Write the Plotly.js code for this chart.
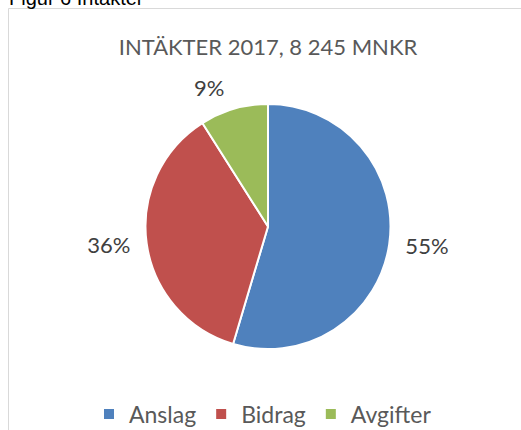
<!DOCTYPE html>
<html>
<head>
<meta charset="utf-8">
<script src="https://cdn.plot.ly/plotly-3.0.1.min.js"></script>
<style>html,body{margin:0;padding:0;background:#fff;}#chart{width:521px;height:430px;}</style>
</head>
<body>
<div id="chart"></div>
<script>
const categories = ["Anslag", "Bidrag", "Avgifter"];
const shares = [54.6, 36.4, 9.0];
const colors = ["#4F81BD", "#C0504D", "#9BBB59"];
const chartTitle = "INTÄKTER 2017, 8 245 MNKR";
const figureCaption = "Figur 6 Intäkter";

const W = 521, H = 430;
const cx = 268, cy = 226.5, r = 122.5, rLabel = 132;
const textFont = "Lato, 'Open Sans', sans-serif";

function domainFor(radius) {
  return {x: [(cx - radius) / W, (cx + radius) / W], y: [(H - cy - radius) / H, (H - cy + radius) / H]};
}

const pieTrace = {
  type: "pie",
  labels: categories,
  values: shares,
  sort: false,
  direction: "clockwise",
  rotation: 0,
  marker: {colors: colors, line: {color: "#ffffff", width: 2}},
  textinfo: "none",
  hoverinfo: "none",
  domain: domainFor(r),
  showlegend: true
};

// same data, transparent, only used to place the percentage labels a little outside the pie
const labelTrace = {
  type: "pie",
  labels: categories,
  values: shares,
  sort: false,
  direction: "clockwise",
  rotation: 0,
  marker: {colors: categories.map(() => "rgba(0,0,0,0)"), line: {width: 0}},
  textposition: "outside",
  texttemplate: "%{percent:.0%}",
  textfont: {family: textFont, size: 22, color: "#404040"},
  hoverinfo: "none",
  domain: domainFor(rLabel),
  showlegend: false
};

const layout = {
  width: W, height: H,
  margin: {l: 0, r: 0, t: 0, b: 0, autoexpand: false},
  paper_bgcolor: "#ffffff",
  title: {text: chartTitle, font: {family: textFont, size: 22, color: "#595959"}, x: cx / W, xanchor: "center", y: 1 - 47 / H, yanchor: "middle"},
  showlegend: true,
  legend: {orientation: "h", xref: "container", yref: "container", x: (129 - 40) / W, xanchor: "left", y: 1 - 414 / H, yanchor: "middle",
           font: {family: textFont, size: 23, color: "#595959"}, itemclick: false, traceorder: "normal"},
  shapes: [{type: "rect", xref: "paper", yref: "paper", x0: 8.5 / W, x1: 1.1, y0: -0.1, y1: 1 - 8.5 / H,
            line: {color: "#d9d9d9", width: 1}, fillcolor: "rgba(0,0,0,0)"}],
  annotations: [{text: figureCaption, xref: "paper", yref: "paper", x: 8 / W, xanchor: "left", y: 1 - 10 / H, yanchor: "bottom",
                 showarrow: false, font: {family: "Liberation Sans, Arial, sans-serif", size: 20, color: "#000000"}, borderpad: 0}]
};

Plotly.newPlot("chart", [pieTrace, labelTrace], layout, {staticPlot: true, displayModeBar: false});
</script>
</body>
</html>
